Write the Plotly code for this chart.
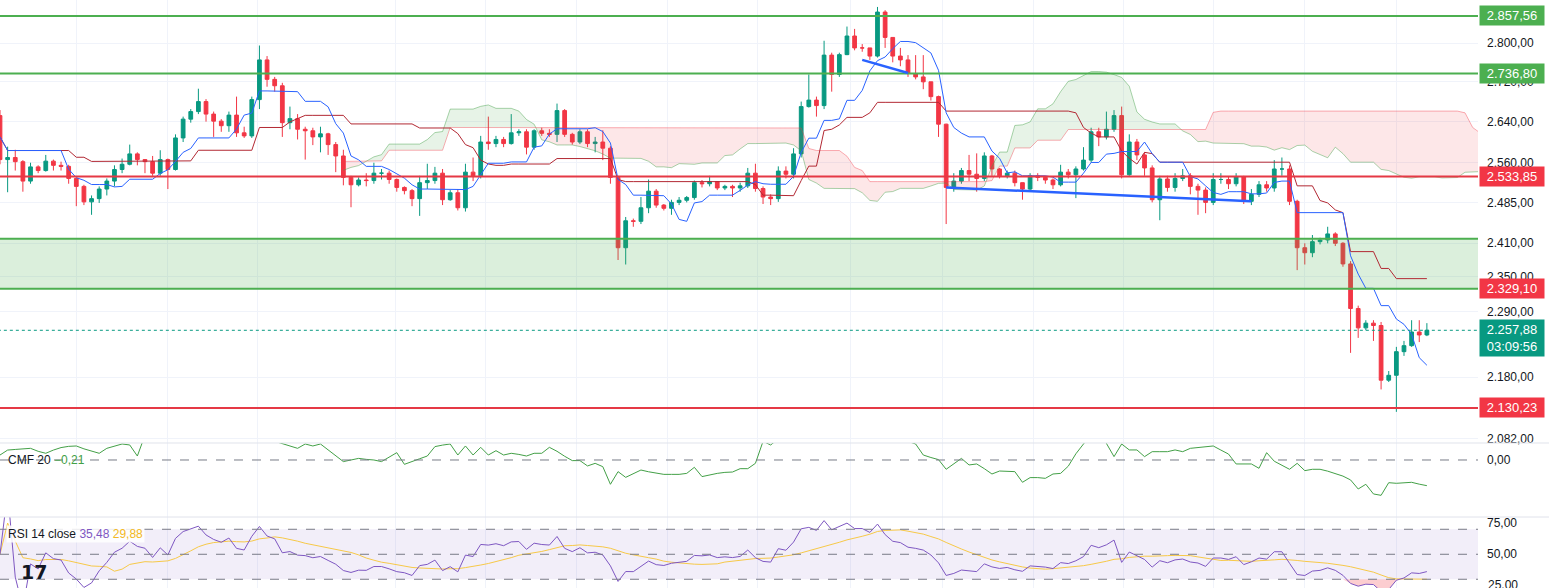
import numpy as np
import pandas as pd
import plotly.graph_objects as go

OPEN0 = 2652
CLOSE = [2566,2570,2562,2525,2552,2545,2563,2555,2553,2530,2515,2486,2492,2510,2525,2547,2557,2577,2566,2562,
2540,2566,2547,2608,2645,2660,2680,2655,2641,2632,2653,2618,2612,2684,2765,2725,2712,2638,2646,2625,
2622,2610,2616,2595,2573,2532,2518,2527,2526,2540,2540,2528,2513,2507,2492,2522,2526,2540,2490,2503,
2475,2542,2535,2600,2597,2605,2597,2618,2620,2590,2622,2617,2615,2662,2615,2600,2620,2597,2600,2588,
2532,2402,2451,2450,2475,2506,2480,2474,2485,2489,2494,2522,2520,2524,2512,2515,2512,2516,2540,2511,
2495,2492,2544,2538,2577,2670,2683,2672,2775,2735,2776,2815,2790,2790,2773,2866,2812,2773,2765,2737,
2730,2720,2690,2635,2513,2525,2545,2538,2530,2573,2548,2535,2540,2522,2510,2535,2532,2527,2518,2542,
2537,2548,2565,2620,2610,2625,2652,2537,2600,2575,2550,2490,2529,2513,2530,2535,2515,2508,2485,2528,
2528,2520,2533,2487,2500,2518,2512,2548,2548,2487,2402,2393,2413,2416,2427,2410,2373,2295,2262,2270,
2266,2175,2183,2222,2232,2255,2250,2257.88]
HIGH = [2663,2591,2585,2565,2560,2555,2575,2566,2562,2556,2530,2518,2498,2515,2530,2555,2568,2595,2580,2567,
2573,2584,2568,2615,2650,2665,2706,2685,2660,2645,2660,2690,2630,2690,2795,2773,2730,2718,2670,2655,
2630,2628,2630,2618,2600,2585,2535,2532,2540,2560,2548,2545,2530,2515,2510,2535,2558,2552,2548,2508,
2510,2558,2570,2612,2650,2612,2610,2655,2625,2625,2625,2628,2625,2676,2665,2618,2625,2625,2610,2623,
2592,2535,2458,2455,2495,2528,2510,2482,2490,2495,2497,2526,2527,2535,2525,2518,2518,2522,2550,2558,
2515,2500,2553,2553,2588,2680,2735,2690,2805,2780,2780,2835,2830,2798,2790,2877,2870,2812,2790,2775,
2775,2775,2718,2692,2636,2540,2550,2575,2578,2580,2575,2550,2545,2545,2520,2540,2540,2535,2530,2556,
2548,2553,2590,2628,2628,2660,2663,2670,2615,2606,2580,2555,2535,2535,2540,2548,2540,2520,2513,2540,
2540,2533,2540,2535,2510,2525,2525,2565,2570,2555,2490,2410,2425,2420,2440,2430,2412,2378,2300,2275,
2275,2272,2190,2230,2240,2275,2275,2270]
LOW = [2557,2504,2545,2505,2520,2540,2543,2545,2545,2520,2478,2480,2462,2484,2498,2515,2540,2555,2555,2540,
2535,2535,2510,2545,2600,2638,2655,2640,2610,2620,2620,2610,2608,2608,2665,2710,2700,2610,2625,2605,
2566,2594,2580,2575,2542,2517,2476,2515,2515,2520,2528,2520,2505,2500,2478,2460,2510,2520,2480,2488,
2470,2468,2525,2530,2585,2590,2590,2595,2612,2576,2585,2612,2610,2600,2610,2595,2596,2590,2580,2565,
2520,2380,2372,2440,2445,2465,2475,2470,2462,2480,2485,2490,2513,2515,2508,2508,2495,2505,2512,2505,
2482,2480,2486,2530,2530,2570,2668,2650,2665,2700,2730,2775,2785,2782,2765,2770,2790,2760,2752,2730,
2725,2705,2682,2610,2445,2505,2520,2525,2505,2525,2535,2530,2530,2515,2490,2505,2525,2520,2510,2515,
2530,2493,2545,2560,2592,2605,2620,2530,2535,2565,2535,2485,2452,2505,2505,2525,2500,2462,2465,2480,
2520,2510,2515,2482,2480,2495,2505,2505,2535,2480,2362,2372,2385,2408,2410,2405,2368,2220,2245,2258,
2240,2160,2172,2124,2215,2230,2238,2248]
CMF = [.04,.08,.085,.09,.094,.07,.054,.08,.1,.11,.113,.09,.07,.054,.094,.11,.129,.121,.032,.2,
.22,.25,.24,.27,.26,.24,.22,.25,.28,.26,.23,.21,.24,.22,.19,.17,.15,.129,.11,.094,
.129,.113,.129,.08,.03,-.013,0,.013,.005,0,-.013,.02,.059,-.035,-.01,.01,.032,.108,.12,.129,
.04,.113,.04,.102,.04,.075,.04,.054,.045,.032,.054,.054,.102,.07,.03,-.005,-.005,-.048,-.027,-.054,
-.196,-.094,-.14,-.11,-.081,-.095,-.105,-.116,-.116,-.116,-.108,-.059,-.134,-.12,-.108,-.1,-.097,-.07,-.07,-.027,
.15,.121,.17,.2,.22,.25,.27,.3,.28,.26,.3,.32,.29,.27,.25,.23,.2,.18,.16,.15,
.129,.04,.02,.003,-.075,-.03,.013,-.04,-.032,-.07,-.113,-.089,-.09,-.094,-.18,-.142,-.142,-.148,-.113,-.108,
-.05,.05,.129,.2,.2,.134,.027,.129,.081,.081,.027,.067,.067,.067,.081,.067,.094,.1,.105,.113,
.08,.048,-.032,-.032,-.032,-.067,.059,-.01,-.04,-.075,-.027,-.086,-.075,-.075,-.09,-.108,-.13,-.161,-.234,-.196,
-.274,-.285,-.183,-.188,-.185,-.18,-.195,-.207]

LEVELS_GREEN = [2857.56, 2736.80, 2418.0, 2329.10]
LEVELS_RED = [2533.85, 2130.23]
ZONE = [2329.10, 2418.0]
LAST = 2257.88
PRICE_TICKS = [2082, 2180, 2290, 2350, 2410, 2485, 2560, 2640, 2720, 2800]
TREND1 = ([113, 119], [2765, 2738])
TREND2 = ([124, 164], [2513, 2487])
GRID_X = [10, 21.9, 33.7, 51.8, 63.6, 75.6, 87.5, 99.3, 111.4, 123.5, 135.4, 147.2, 159.1, 171, 183]

def fmt(v):
    s = f"{v:,.2f}"
    return s.replace(",", "X").replace(".", ",").replace("X", ".")

n = len(CLOSE)
x = np.arange(n)
close = np.array(CLOSE, float)
opn = np.concatenate([[OPEN0], close[:-1]])
high = np.maximum.reduce([np.array(HIGH, float), opn, close])
low = np.minimum.reduce([np.array(LOW, float), opn, close])

H = pd.Series(high); L = pd.Series(low)
def mid(p):
    return (H.rolling(p, min_periods=1).max() + L.rolling(p, min_periods=1).min()) / 2
tenkan = mid(9); kijun = mid(26)
spanA = ((tenkan + kijun) / 2).values
spanB = mid(52).values
xs = x + 25
valid = np.arange(n) >= 20
sx, sa, sb = xs[valid], spanA[valid], spanB[valid]

d = pd.Series(close).diff()
up = d.clip(lower=0).ewm(alpha=1/14, adjust=True).mean()
dn = (-d.clip(upper=0)).ewm(alpha=1/14, adjust=True).mean()
rsi = (100 - 100 / (1 + up / dn)).fillna(50).values
rsima = pd.Series(rsi).rolling(14, min_periods=1).mean().values

GREEN = "#089981"; RED = "#F23645"
fig = go.Figure()

sign = sa >= sb
start = 0
for k in range(1, len(sx) + 1):
    if k == len(sx) or sign[k] != sign[start]:
        end = min(k + 1, len(sx))
        col = "rgba(67,160,71,0.13)" if sign[start] else "rgba(242,54,69,0.12)"
        fig.add_trace(go.Scatter(x=sx[start:end], y=sb[start:end], mode="lines", line=dict(width=0), showlegend=False, hoverinfo="skip"))
        fig.add_trace(go.Scatter(x=sx[start:end], y=sa[start:end], mode="lines", line=dict(width=0), fill="tonexty", fillcolor=col, showlegend=False, hoverinfo="skip"))
        start = k
fig.add_trace(go.Scatter(x=sx, y=sa, mode="lines", line=dict(color="rgba(67,160,71,0.45)", width=1), showlegend=False, hoverinfo="skip"))
fig.add_trace(go.Scatter(x=sx, y=sb, mode="lines", line=dict(color="rgba(242,54,69,0.4)", width=1), showlegend=False, hoverinfo="skip"))

fig.add_trace(go.Scatter(x=[-5, 200], y=[ZONE[0]]*2, mode="lines", line=dict(width=0), showlegend=False, hoverinfo="skip"))
fig.add_trace(go.Scatter(x=[-5, 200], y=[ZONE[1]]*2, mode="lines", line=dict(width=0), fill="tonexty", fillcolor="rgba(76,175,80,0.2)", showlegend=False, hoverinfo="skip"))

fig.add_trace(go.Scatter(x=x, y=kijun, mode="lines", line=dict(color="#B22833", width=1), showlegend=False, hoverinfo="skip"))
fig.add_trace(go.Scatter(x=x, y=tenkan, mode="lines", line=dict(color="#2962FF", width=1), showlegend=False, hoverinfo="skip"))

for lv in LEVELS_GREEN:
    fig.add_trace(go.Scatter(x=[-5, 200], y=[lv]*2, mode="lines", line=dict(color="#4CAF50", width=2), showlegend=False, hoverinfo="skip"))
for lv in LEVELS_RED:
    fig.add_trace(go.Scatter(x=[-5, 200], y=[lv]*2, mode="lines", line=dict(color="#E53945", width=2), showlegend=False, hoverinfo="skip"))
fig.add_trace(go.Scatter(x=[-5, 200], y=[LAST]*2, mode="lines", line=dict(color=GREEN, width=1, dash="dot"), showlegend=False, hoverinfo="skip"))

fig.add_trace(go.Candlestick(x=x, open=opn, high=high, low=low, close=close,
    increasing=dict(line=dict(color=GREEN, width=1), fillcolor=GREEN),
    decreasing=dict(line=dict(color=RED, width=1), fillcolor=RED),
    whiskerwidth=0, showlegend=False, hoverinfo="skip"))

for tx, ty in (TREND1, TREND2):
    fig.add_trace(go.Scatter(x=tx, y=ty, mode="lines", line=dict(color="#2962FF", width=2.5), showlegend=False, hoverinfo="skip"))

fig.add_trace(go.Scatter(x=x, y=CMF, mode="lines", line=dict(color="#43A047", width=1), yaxis="y2", showlegend=False, hoverinfo="skip"))

fig.add_trace(go.Scatter(x=[-5, 200], y=[30, 30], mode="lines", line=dict(width=0), yaxis="y3", showlegend=False, hoverinfo="skip"))
fig.add_trace(go.Scatter(x=[-5, 200], y=[70, 70], mode="lines", line=dict(width=0), fill="tonexty", fillcolor="rgba(126,87,194,0.1)", yaxis="y3", showlegend=False, hoverinfo="skip"))
tail = x >= 150
fig.add_trace(go.Scatter(x=x[tail], y=[30]*int(tail.sum()), mode="lines", line=dict(width=0), yaxis="y3", showlegend=False, hoverinfo="skip"))
fig.add_trace(go.Scatter(x=x[tail], y=np.minimum(rsi, 30)[tail], mode="lines", line=dict(width=0), fill="tonexty", fillcolor="rgba(242,54,69,0.25)", yaxis="y3", showlegend=False, hoverinfo="skip"))
fig.add_trace(go.Scatter(x=x, y=rsima, mode="lines", line=dict(color="#F7C948", width=1), yaxis="y3", showlegend=False, hoverinfo="skip"))
fig.add_trace(go.Scatter(x=x, y=rsi, mode="lines", line=dict(color="#7E57C2", width=1), yaxis="y3", showlegend=False, hoverinfo="skip"))

shapes = []
for v in (70, 50, 30):
    shapes.append(dict(type="line", xref="paper", x0=0, x1=1, yref="y3", y0=v, y1=v, line=dict(color="#787B86", width=1, dash="dash")))
shapes.append(dict(type="line", xref="paper", x0=0, x1=1, yref="y2", y0=0, y1=0, line=dict(color="#787B86", width=1, dash="dash")))
for yy in (0.2466, 0.1207):
    shapes.append(dict(type="line", xref="paper", x0=0, x1=1.05, yref="paper", y0=yy, y1=yy, line=dict(color="#E0E3EB", width=1)))

FONT = "Liberation Sans, Arial, sans-serif"
ann = []
def lab(val, text, bg):
    ann.append(dict(x=1, xref="paper", xanchor="left", xshift=1, y=np.log10(val), yref="y", yanchor="middle",
                    text=text, showarrow=False, bgcolor=bg, font=dict(color="white", size=13, family=FONT),
                    width=62, height=17, borderpad=1, align="center"))
lab(2857.56, fmt(2857.56), "#4CAF50")
lab(2736.80, fmt(2736.80), "#4CAF50")
lab(2533.85, fmt(2533.85), "#F23645")
lab(2329.10, fmt(2329.10), "#F23645")
lab(2130.23, fmt(2130.23), "#F23645")
ann.append(dict(x=1, xref="paper", xanchor="left", xshift=1, y=np.log10(LAST), yref="y", yanchor="top", yshift=11,
                text=fmt(LAST) + "<br>03:09:56", showarrow=False, bgcolor=GREEN, font=dict(color="white", size=13, family=FONT),
                width=62, height=34, borderpad=1))
ann.append(dict(x=1, xref="paper", xanchor="left", xshift=8, y=25, yref="y3", yanchor="middle",
                text="25,00", showarrow=False, font=dict(color="#131722", size=12, family=FONT)))
ann.append(dict(x=0.004, xref="paper", xanchor="left", y=0, yref="y2", yanchor="middle",
                text="CMF 20 <span style='color:#43A047'>−0,21</span>", showarrow=False, font=dict(color="#131722", size=12, family=FONT)))
ann.append(dict(x=0.004, xref="paper", xanchor="left", y=66, yref="y3", yanchor="middle",
                text="RSI 14 close <span style='color:#7E57C2'>35,48</span> <span style='color:#F2B824'>29,88</span>",
                bgcolor="rgba(255,255,255,0.85)", showarrow=False, font=dict(color="#131722", size=12, family=FONT)))
ann.append(dict(x=0.013, xref="paper", xanchor="left", y=36, yref="y3", yanchor="middle",
                text="<b>17</b>", showarrow=False, font=dict(color="#131722", size=19, family="DejaVu Sans")))

ymin, ymax = np.log10(2075), np.log10(2892)
fig.update_layout(
    width=1549, height=588, margin=dict(l=0, r=71, t=0, b=0, autoexpand=False),
    paper_bgcolor="white", plot_bgcolor="white", showlegend=False,
    font=dict(family=FONT, color="#131722", size=12),
    xaxis=dict(range=[0, 193.7], rangeslider=dict(visible=False), showticklabels=False,
               tickvals=GRID_X, showgrid=True, gridcolor="#F0F3FA", zeroline=False, anchor="y3", automargin=False),
    yaxis=dict(domain=[0.2466, 1], type="log", range=[ymin, ymax], side="right", automargin=False,
               tickvals=PRICE_TICKS, ticktext=[fmt(v) for v in PRICE_TICKS],
               gridcolor="#F0F3FA", zeroline=False, ticks="", ticklabelstandoff=8, tickfont=dict(size=12)),
    yaxis2=dict(domain=[0.1207, 0.2466], range=[-0.46, 0.137], side="right", anchor="x", automargin=False,
                tickvals=[0], ticktext=["0,00"], showgrid=False, zeroline=False, ticklabelstandoff=8),
    yaxis3=dict(domain=[0, 0.1207], range=[23, 79.8], side="right", anchor="x", automargin=False,
                tickvals=[50, 75], ticktext=["50,00", "75,00"], showgrid=False, zeroline=False, ticklabelstandoff=8),
    shapes=shapes, annotations=ann,
)
fig.write_html("out.html", config={"displayModeBar": False},
               post_script="document.body.style.margin='0';document.body.style.overflow='hidden';")
